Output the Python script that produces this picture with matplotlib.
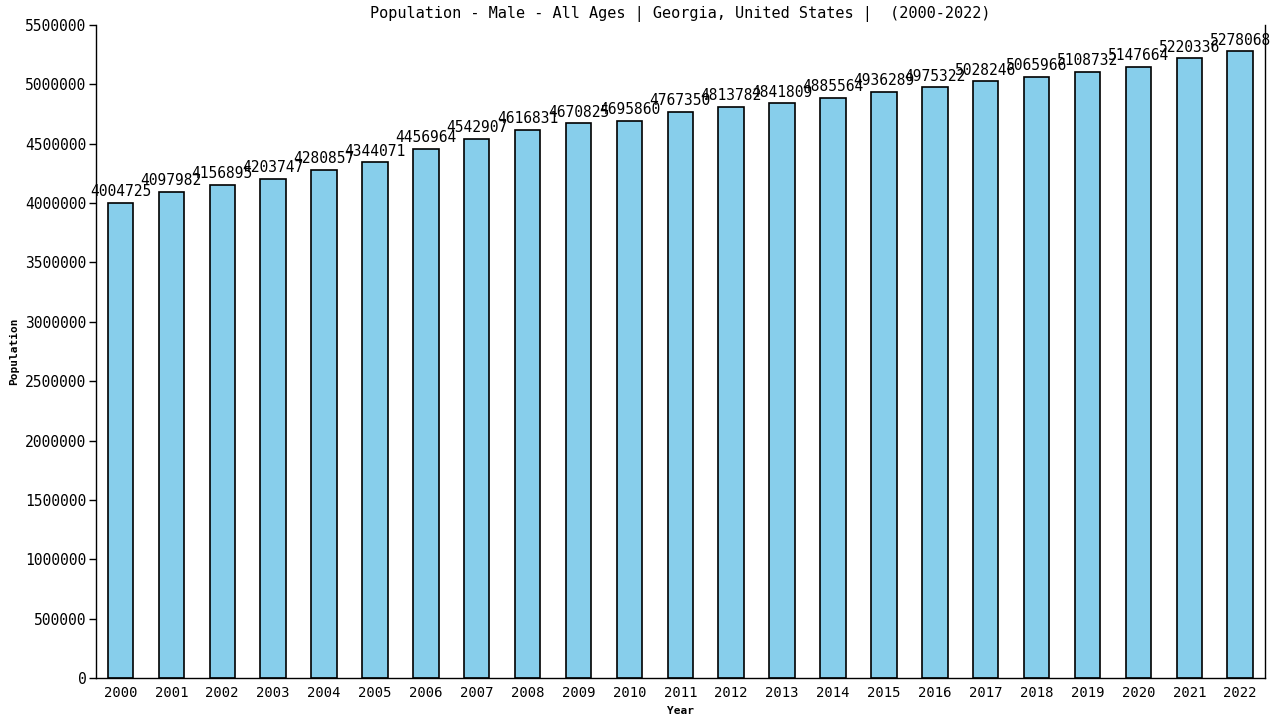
import matplotlib
matplotlib.use('Agg')
import matplotlib.pyplot as plt

years = ['2000', '2001', '2002', '2003', '2004', '2005', '2006', '2007', '2008', '2009', '2010', '2011',
         '2012', '2013', '2014', '2015', '2016', '2017', '2018', '2019', '2020', '2021', '2022']
population = [4004725, 4097982, 4156895, 4203747, 4280857, 4344071, 4456964, 4542907, 4616831, 4670825,
              4695860, 4767350, 4813782, 4841809, 4885564, 4936289, 4975322, 5028246, 5065966, 5108732,
              5147664, 5220336, 5278068]

plt.rcParams['font.family'] = ['DejaVu Sans Mono']

fig = plt.figure(figsize=(12.8, 7.2), dpi=100)
ax = fig.add_axes([0.075, 0.0583, 0.913, 0.9069])

x = list(range(len(years)))
bars = ax.bar(x, population, width=0.5, color='#87CEEB', edgecolor='black', linewidth=1.2)

# value labels on top of each bar
for xi, v in zip(x, population):
    ax.text(xi, v + 30000, str(v), ha='center', va='bottom', fontsize=10.5)

ax.set_xlim(-0.48, len(years) - 0.52)
ax.set_ylim(0, 5500000)
ax.set_yticks(range(0, 5500001, 500000))
ax.set_yticklabels([str(t) for t in range(0, 5500001, 500000)], fontsize=10.5)
ax.set_xticks(x)
ax.set_xticklabels(years, fontsize=10)
ax.tick_params(axis='x', length=0, pad=6)
ax.tick_params(axis='y', length=5, width=1, pad=2)

ax.spines['top'].set_visible(False)
for s in ['left', 'right', 'bottom']:
    ax.spines[s].set_linewidth(1)

ax.set_title('Population - Male - All Ages | Georgia, United States |  (2000-2022)', fontsize=11, pad=5)
ax.set_xlabel('Year', fontsize=8, fontweight='bold', labelpad=4)
ax.set_ylabel('Population', fontsize=8, fontweight='bold', labelpad=4)

fig.savefig('out.png', dpi=100)
